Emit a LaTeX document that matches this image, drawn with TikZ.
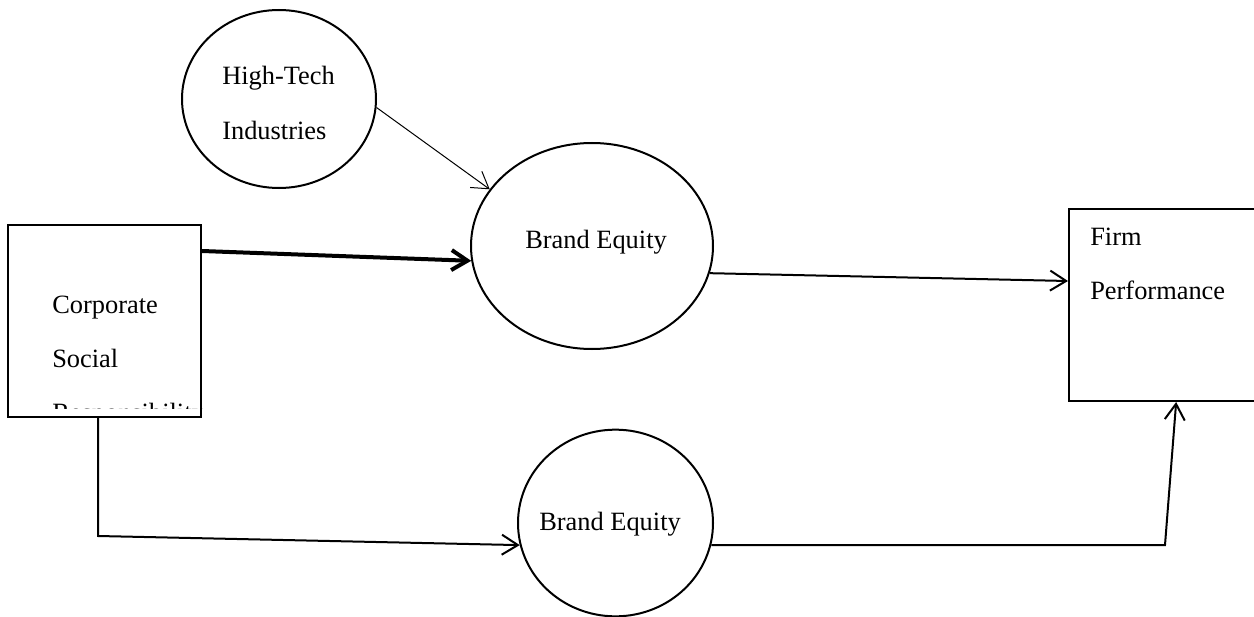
\documentclass[tikz,border=0pt]{standalone}
\usepackage{fontspec}
\setmainfont{Liberation Serif}
\usetikzlibrary{arrows.meta,shapes.geometric}

\tikzset{
  construct/.style={draw, ellipse, line width=1.5pt, inner sep=0pt},
  measure/.style={draw, rectangle, line width=1.5pt, inner sep=0pt},
  lbl/.style={anchor=base west, inner sep=0pt, font=\fontsize{19.8}{24}\selectfont},
  link/.style={line width=1.5pt, -{Straight Barb[length=12pt,width=15pt]}},
}

\begin{document}
\begin{tikzpicture}[x=0.75pt,y=-0.75pt]
 \useasboundingbox (0,0) rectangle (1254,617);

% the constructs
\node[construct, minimum width=145.5pt, minimum height=133.5pt] (hightech) at (279,99) {};
\node[construct, minimum width=181.5pt, minimum height=154.5pt] (brandtop) at (592,246) {};
\node[construct, minimum width=146.25pt, minimum height=140pt] (brandlow) at (615.5,523) {};
\node[measure, minimum width=144.75pt, minimum height=144pt] (csr) at (104.5,321) {};
\node[measure, minimum width=144.75pt, minimum height=144pt] (firm) at (1165.5,305) {};

% labels
\node[lbl] (ht1) at (222,85) {High-Tech};
\node[lbl] (ht2) at (222,140) {Industries};
\node[lbl] (bt) at (525,248) {Brand Equity};
\node[lbl] (bl) at (539,530) {Brand Equity};
\node[lbl] (fp1) at (1090,245) {Firm};
\node[lbl] (fp2) at (1090,299) {Performance};
\node[lbl] (csr1) at (52,313) {Corporate};
\node[lbl] (csr2) at (52,367) {Social};
\begin{scope}
 \clip (csr.north west) rectangle ([yshift=7.5pt]csr.south east);
 \node[lbl] (csr3) at (52,421) {Responsibility};
\end{scope}

% paths
\coordinate (bend1) at (98,536);
\coordinate (bend2) at (1165,545);
\draw[link, line width=0.75pt] (hightech.-5) -- (brandtop.151);
\draw[link, line width=3pt] ([yshift=-20.25pt]csr.north east) -- (brandtop.187);
\draw[link] (brandtop.-13) -- ([yshift=18pt]firm.west);
\draw[link] (csr.south -| bend1) -- (bend1) -- (brandlow.193);
\draw[link] (brandlow.-13) -- (bend2) -- ([xshift=8pt]firm.south);
\end{tikzpicture}
\end{document}
